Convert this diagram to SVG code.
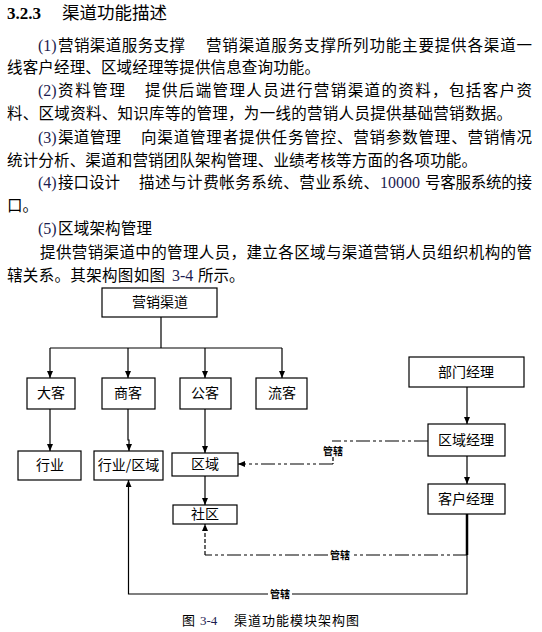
<svg xmlns="http://www.w3.org/2000/svg" width="542" height="632" viewBox="0 0 542 632">
<style>
.t{font-family:"Noto Sans CJK SC",sans-serif;font-size:15.5px;fill:#000}
.n{font-family:"Liberation Serif",serif;font-size:16px;fill:#1c1c50}
.b{fill:#fff;stroke:#000;stroke-width:1.2}
.l{font-family:"Noto Sans CJK SC",sans-serif;font-size:14px;text-anchor:middle;fill:#000}
.c{fill:none;stroke:#000;stroke-width:1.2}
.dd{stroke-dasharray:14 3 3 3 3 3}
.ds{stroke-dasharray:4 2}
.g{font-family:"Noto Sans CJK SC",sans-serif;font-size:10px;font-weight:bold;text-anchor:middle;fill:#000}
.cap{font-family:"Noto Sans CJK SC",sans-serif;font-size:13px;fill:#000}
</style>
<defs>
<marker id="a" markerUnits="userSpaceOnUse" markerWidth="8" markerHeight="8" refX="7" refY="3" orient="auto">
<path d="M0,0 L7,3 L0,6 z" fill="#000"/>
</marker>
</defs>

<g id="body-text">
<text x="7" y="19" font-family="Liberation Serif, serif" font-size="17" font-weight="bold">3.2.3</text>
<text x="62" y="19" font-family="Noto Sans CJK SC, sans-serif" font-size="17.5" textLength="105" lengthAdjust="spacing">渠道功能描述</text>

<text class="n" x="38" y="51">(1)</text>
<text class="t" x="58" y="51" textLength="127" lengthAdjust="spacing">营销渠道服务支撑</text>
<text class="t" x="206" y="51" textLength="326" lengthAdjust="spacing">营销渠道服务支撑所列功能主要提供各渠道一</text>
<text class="t" x="7" y="73" textLength="313" lengthAdjust="spacing">线客户经理、区域经理等提供信息查询功能。</text>

<text class="n" x="38" y="96">(2)</text>
<text class="t" x="58" y="96" textLength="67" lengthAdjust="spacing">资料管理</text>
<text class="t" x="145" y="96" textLength="387" lengthAdjust="spacing">提供后端管理人员进行营销渠道的资料，包括客户资</text>
<text class="t" x="7" y="119" textLength="505" lengthAdjust="spacing">料、区域资料、知识库等的管理，为一线的营销人员提供基础营销数据。</text>

<text class="n" x="38" y="143">(3)</text>
<text class="t" x="58" y="143" textLength="63" lengthAdjust="spacing">渠道管理</text>
<text class="t" x="141" y="143" textLength="391" lengthAdjust="spacing">向渠道管理者提供任务管控、营销参数管理、营销情况</text>
<text class="t" x="7" y="166" textLength="470" lengthAdjust="spacing">统计分析、渠道和营销团队架构管理、业绩考核等方面的各项功能。</text>

<text class="n" x="38" y="188">(4)</text>
<text class="t" x="58" y="188" textLength="62" lengthAdjust="spacing">接口设计</text>
<text class="t" x="139" y="188" textLength="240" lengthAdjust="spacing">描述与计费帐务系统、营业系统、</text>
<text class="n" x="380" y="188" fill="#3a2a1a">10000</text>
<text class="t" x="425" y="188" textLength="107" lengthAdjust="spacing">号客服系统的接</text>
<text class="t" x="7" y="211">口。</text>

<text class="n" x="38" y="234">(5)</text>
<text class="t" x="58" y="234" textLength="94" lengthAdjust="spacing">区域架构管理</text>
<text class="t" x="40" y="258" textLength="492" lengthAdjust="spacing">提供营销渠道中的管理人员，建立各区域与渠道营销人员组织机构的管</text>
<text class="t" x="7" y="281" textLength="158" lengthAdjust="spacing">辖关系。其架构图如图</text>
<text class="n" x="172" y="281">3-4</text>
<text class="t" x="198" y="281">所示。</text>
</g>

<g id="connectors">
<path class="c" d="M161,317 V348 M50,348 H282"/>
<path class="c" d="M50,348 V378" marker-end="url(#a)"/>
<path class="c" d="M128,348 V378" marker-end="url(#a)"/>
<path class="c" d="M205,348 V378" marker-end="url(#a)"/>
<path class="c" d="M282,348 V378" marker-end="url(#a)"/>
<path class="c" d="M50,409 V451" marker-end="url(#a)"/>
<path class="c" d="M128,409 V440 H129 V451" marker-end="url(#a)"/>
<path class="c" d="M205,409 V453" marker-end="url(#a)"/>
<path class="c" d="M205,476 V505" marker-end="url(#a)"/>
<path class="c" d="M467,387 V424" marker-end="url(#a)"/>
<path class="c" d="M467,456 V484" marker-end="url(#a)"/>
<path class="c dd" d="M428,441 H332"/>
<path class="c ds" d="M333,457 V464"/>
<path class="c dd" d="M333,464 H238" marker-end="url(#a)"/>
<path fill="none" stroke="#000" stroke-width="2.5" d="M467,514 V555"/>
<path class="c dd" d="M467,555 H352 M328,555 H205"/>
<path class="c ds" d="M205,555 V524" marker-end="url(#a)"/>
<path class="c" d="M467,555 V594 H292 M268,594 H128.5 V480" marker-end="url(#a)"/>
<text class="g" x="333" y="455">管辖</text>
<text class="g" x="340" y="559">管辖</text>
<text class="g" x="280" y="598">管辖</text>
</g>

<g id="n-yingxiao"><rect class="b" x="102" y="288" width="115" height="29"/><text class="l" x="160" y="307">营销渠道</text></g>
<g id="n-dake"><rect class="b" x="27" y="378" width="48" height="31"/><text class="l" x="51" y="398">大客</text></g>
<g id="n-shangke"><rect class="b" x="102" y="378" width="53" height="31"/><text class="l" x="128" y="398">商客</text></g>
<g id="n-gongke"><rect class="b" x="180" y="378" width="51" height="31"/><text class="l" x="205" y="398">公客</text></g>
<g id="n-liuke"><rect class="b" x="256" y="378" width="51" height="31"/><text class="l" x="282" y="398">流客</text></g>
<g id="n-hangye"><rect class="b" x="18" y="451" width="63" height="29"/><text class="l" x="50" y="470">行业</text></g>
<g id="n-hangyequyu"><rect class="b" x="94" y="451" width="69" height="29"/><text class="l" x="128.5" y="470">行业/区域</text></g>
<g id="n-quyu"><rect class="b" x="172" y="453" width="66" height="23"/><text class="l" x="205" y="469">区域</text></g>
<g id="n-shequ"><rect class="b" x="173" y="505" width="64" height="19"/><text class="l" x="205" y="519">社区</text></g>
<g id="n-bumen"><rect class="b" x="409" y="357" width="115" height="30"/><text class="l" x="466" y="377">部门经理</text></g>
<g id="n-quyujingli"><rect class="b" x="428" y="424" width="77" height="32"/><text class="l" x="466" y="445">区域经理</text></g>
<g id="n-kehu"><rect class="b" x="428" y="484" width="77" height="30"/><text class="l" x="466" y="504">客户经理</text></g>

<g id="caption">
<text class="cap" x="182" y="625">图</text>
<text x="200" y="625" font-family="Liberation Serif, serif" font-size="13" fill="#1c1c50">3-4</text>
<text class="cap" x="234" y="625" textLength="125" lengthAdjust="spacing">渠道功能模块架构图</text>
</g>
</svg>
